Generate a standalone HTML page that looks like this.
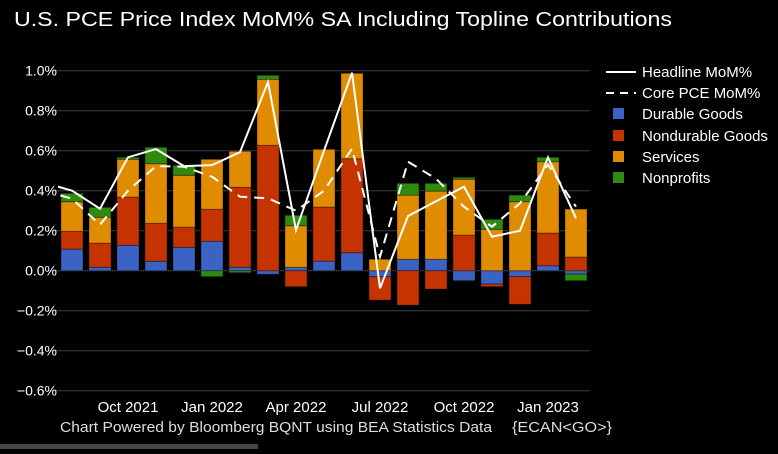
<!DOCTYPE html>
<html><head><meta charset="utf-8"><style>
body{margin:0;background:#000;width:778px;height:449px;overflow:hidden;font-family:"Liberation Sans",sans-serif}
</style></head><body>
<svg id="c" width="778" height="449" xmlns="http://www.w3.org/2000/svg">
<defs><clipPath id="pc"><rect x="58" y="40" width="540" height="370"/></clipPath></defs>
<text x="14" y="26" fill="#fff" font-size="20" textLength="658" lengthAdjust="spacingAndGlyphs">U.S. PCE Price Index MoM% SA Including Topline Contributions</text>
<g id="grid"></g><g id="bars"></g><g id="lines" clip-path="url(#pc)"></g><g id="xl"></g>
<g font-size="15" fill="#fff">
<line x1="606" y1="72" x2="636" y2="72" stroke="#fff" stroke-width="2"/><text x="642" y="77">Headline MoM%</text>
<line x1="606" y1="93" x2="636" y2="93" stroke="#fff" stroke-width="2" stroke-dasharray="8,6"/><text x="642" y="98">Core PCE MoM%</text>
<rect x="613" y="108" width="11" height="11" fill="#3b63c4"/><text x="642" y="119">Durable Goods</text>
<rect x="613" y="130" width="11" height="11" fill="#c43300"/><text x="642" y="141">Nondurable Goods</text>
<rect x="613" y="151" width="11" height="11" fill="#e08c00"/><text x="642" y="162">Services</text>
<rect x="613" y="172" width="11" height="11" fill="#2e8b0e"/><text x="642" y="183">Nonprofits</text>
</g>
<text x="60" y="432" fill="#ddd" font-size="15"><tspan textLength="432" lengthAdjust="spacingAndGlyphs">Chart Powered by Bloomberg BQNT using BEA Statistics Data</tspan><tspan x="512" textLength="100" lengthAdjust="spacingAndGlyphs">{ECAN&lt;GO&gt;}</tspan></text>
<rect x="0" y="444" width="258" height="5" fill="#444"/>
</svg>
<script>
const months=["Aug 2021","Sep 2021","Oct 2021","Nov 2021","Dec 2021","Jan 2022","Feb 2022","Mar 2022","Apr 2022","May 2022","Jun 2022","Jul 2022","Aug 2022","Sep 2022","Oct 2022","Nov 2022","Dec 2022","Jan 2023","Feb 2023"];
const durable=[0.108,0.017,0.127,0.047,0.117,0.147,0.017,-0.018,0.017,0.048,0.09,-0.03,0.057,0.057,-0.05,-0.067,-0.03,0.025,-0.017];
const nondurable=[0.089,0.121,0.241,0.19,0.101,0.16,0.4,0.627,-0.08,0.27,0.47,-0.117,-0.172,-0.092,0.178,-0.013,-0.138,0.163,0.068];
const services=[0.148,0.129,0.189,0.298,0.259,0.25,0.18,0.33,0.208,0.289,0.427,0.057,0.321,0.341,0.279,0.207,0.345,0.357,0.24];
const nonprofits=[0.042,0.05,0.01,0.082,0.05,-0.03,-0.01,0.02,0.052,0,0,0,0.059,0.039,0.01,0.05,0.033,0.022,-0.033];
const headlinePrev=0.44, corePrev=0.40;
const headline=[0.40,0.31,0.567,0.608,0.523,0.528,0.593,0.943,0.203,0.60,0.99,-0.088,0.273,0.347,0.42,0.17,0.20,0.567,0.262];
const core=[0.36,0.23,0.40,0.523,0.52,0.47,0.37,0.362,0.30,0.40,0.61,0.07,0.545,0.46,0.32,0.22,0.337,0.53,0.32];
const yTicks=[1.0,0.8,0.6,0.4,0.2,0.0,-0.2,-0.4,-0.6];
const xTickIdx=[2,5,8,11,14,17];
const NS="http://www.w3.org/2000/svg";
const y=v=>270.7-v*200;
const x=i=>72+i*28;
function mk(t,a,p){const e=document.createElementNS(NS,t);for(const k in a)e.setAttribute(k,a[k]);p.appendChild(e);return e;}
const grid=document.getElementById('grid');
yTicks.forEach(v=>{
 const l=mk('line',{x1:48,x2:590,y1:y(v),y2:y(v),stroke:'#3e3e4a','stroke-width':1},grid);
 
 
 const t=mk('text',{x:57,y:y(v)+5,fill:'#fff','font-size':14,'text-anchor':'end'},grid);
 t.textContent=(v<0?'\u2212':'')+Math.abs(v).toFixed(1)+'%';
 
 
});
const bars=document.getElementById('bars');
const series=[[durable,'#3b63c4','durable'],[nondurable,'#c43300','nondurable'],[services,'#e08c00','services'],[nonprofits,'#2e8b0e','nonprofits']];
months.forEach((m,i)=>{
 let pos=0,neg=0;
 series.forEach(([arr,col,nm])=>{
  const v=arr[i]; if(!v)return;
  let a,b;
  if(v>0){a=pos;b=pos+v;pos=b;}else{a=neg;b=neg+v;neg=b;}
  const r=mk('rect',{x:x(i)-11,y:Math.min(y(a),y(b)),width:22,height:Math.abs(y(a)-y(b)),fill:col,stroke:'rgba(0,0,0,0.35)','stroke-width':1},bars);
  
  
 });
});
const lines=document.getElementById('lines');
function pts(prev,arr){return [x(-1)+','+y(prev)].concat(arr.map((v,i)=>x(i)+','+y(v))).join(' ');}
const p1=mk('polyline',{points:pts(headlinePrev,headline),fill:'none',stroke:'#fff','stroke-width':2},lines);


const p2=mk('polyline',{points:pts(corePrev,core),fill:'none',stroke:'#fff','stroke-width':2,'stroke-dasharray':'10,7'},lines);


const xl=document.getElementById('xl');
xTickIdx.forEach(i=>{
 const t=mk('text',{x:x(i),y:412,fill:'#fff','font-size':15,'text-anchor':'middle'},xl);
 t.textContent=months[i];
 
 
});
</script>
</body></html>
